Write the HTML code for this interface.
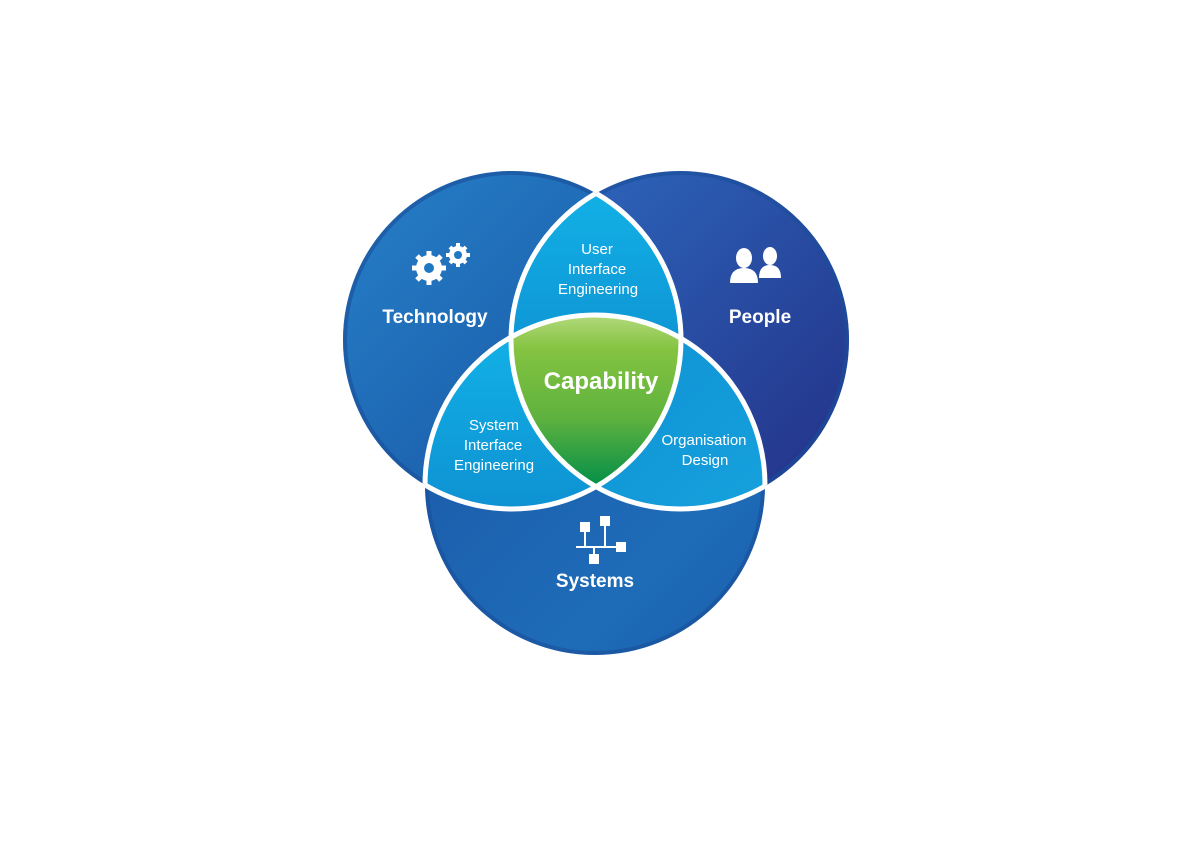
<!DOCTYPE html>
<html><head><meta charset="utf-8"><style>
html,body{margin:0;padding:0;background:#fff;width:1200px;height:844px;overflow:hidden}
text{font-family:"Liberation Sans",sans-serif;fill:#fff;font-weight:bold;text-anchor:middle}
</style></head><body>
<svg width="1200" height="844" viewBox="0 0 1200 844" xmlns="http://www.w3.org/2000/svg">
<defs>
<linearGradient id="gT" x1="0" y1="0" x2="1" y2="1"><stop offset="0" stop-color="#2680c8"/><stop offset="1" stop-color="#174f9f"/></linearGradient>
<linearGradient id="gP" x1="0" y1="0" x2="1" y2="1"><stop offset="0" stop-color="#2d6bc0"/><stop offset="1" stop-color="#232f86"/></linearGradient>
<linearGradient id="gS" x1="0" y1="0" x2="1" y2="1"><stop offset="0" stop-color="#1b57a6"/><stop offset="0.7" stop-color="#1e6cb8"/><stop offset="1" stop-color="#1a5eac"/></linearGradient>
<linearGradient id="gL" x1="0" y1="0" x2="0" y2="1"><stop offset="0" stop-color="#12b4e8"/><stop offset="1" stop-color="#0b78c2"/></linearGradient>
<linearGradient id="gL2" x1="0" y1="0" x2="1" y2="1"><stop offset="0" stop-color="#0c88cf"/><stop offset="1" stop-color="#18a8e0"/></linearGradient>
<linearGradient id="gC" gradientUnits="userSpaceOnUse" x1="0" y1="315" x2="0" y2="486"><stop offset="0" stop-color="#b3d97c"/><stop offset="0.2" stop-color="#84c340"/><stop offset="0.6" stop-color="#5fb23e"/><stop offset="1" stop-color="#038f48"/></linearGradient>
<clipPath id="cT"><circle cx="512" cy="340" r="169"/></clipPath>
<clipPath id="cP"><circle cx="680" cy="340" r="169"/></clipPath>
<clipPath id="cPS"><circle cx="680" cy="340" r="169"/><circle cx="595" cy="485" r="170"/></clipPath>
<clipPath id="cTS"><circle cx="512" cy="340" r="169"/><circle cx="595" cy="485" r="170"/></clipPath>
<clipPath id="cTP"><circle cx="512" cy="340" r="169"/><circle cx="680" cy="340" r="169"/></clipPath>
</defs>
<circle cx="512" cy="340" r="169" fill="url(#gT)"/>
<circle cx="680" cy="340" r="169" fill="url(#gP)"/>
<circle cx="595" cy="485" r="170" fill="url(#gS)"/>
<g fill="none" stroke="#1a4f9a" stroke-width="4" opacity="0.6">
<circle cx="512" cy="340" r="167"/><circle cx="680" cy="340" r="167"/><circle cx="595" cy="485" r="168"/></g>
<g clip-path="url(#cT)"><circle cx="680" cy="340" r="169" fill="url(#gL)"/></g>
<g clip-path="url(#cT)"><circle cx="595" cy="485" r="170" fill="url(#gL)"/></g>
<g clip-path="url(#cP)"><circle cx="595" cy="485" r="170" fill="url(#gL2)"/></g>
<g clip-path="url(#cT)"><g clip-path="url(#cP)"><circle cx="595" cy="485" r="170" fill="url(#gC)"/></g></g>
<g fill="none" stroke="#fff" stroke-width="5">
<circle cx="512" cy="340" r="169" clip-path="url(#cPS)"/>
<circle cx="680" cy="340" r="169" clip-path="url(#cTS)"/>
<circle cx="595" cy="485" r="170" clip-path="url(#cTP)"/>
</g>
<g fill="#fff">
<circle cx="429" cy="268" r="13"/><g stroke="#fff" stroke-width="5">
<line x1="429" y1="251" x2="429" y2="285"/><line x1="412" y1="268" x2="446" y2="268"/>
<line x1="417" y1="256" x2="441" y2="280"/><line x1="441" y1="256" x2="417" y2="280"/></g>
<circle cx="429" cy="268" r="5" fill="#1f78c4"/>
<circle cx="458" cy="255" r="9"/><g stroke="#fff" stroke-width="4">
<line x1="458" y1="243" x2="458" y2="267"/><line x1="446" y1="255" x2="470" y2="255"/>
<line x1="450" y1="247" x2="466" y2="263"/><line x1="466" y1="247" x2="450" y2="263"/></g>
<circle cx="458" cy="255" r="4" fill="#1f78c4"/>
</g>
<g fill="#fff">
<ellipse cx="744" cy="258" rx="8" ry="10"/><path d="M730 283 Q730 268 744 268 Q758 268 758 283 Z"/>
<ellipse cx="770" cy="256" rx="7" ry="9"/><path d="M759 278 Q759 265 770 265 Q781 265 781 278 Z"/>
</g>
<g fill="#fff" stroke="#fff" stroke-width="2">
<rect x="581" y="523" width="8" height="8"/><rect x="601" y="517" width="8" height="8"/>
<rect x="617" y="543" width="8" height="8"/><rect x="590" y="555" width="8" height="8"/>
<line x1="585" y1="531" x2="585" y2="547"/><line x1="605" y1="525" x2="605" y2="547"/>
<line x1="576" y1="547" x2="617" y2="547"/><line x1="594" y1="547" x2="594" y2="555"/>
</g>
<text x="435" y="323" font-size="19">Technology</text>
<text x="760" y="323" font-size="19">People</text>
<text x="595" y="587" font-size="19">Systems</text>
<text x="601" y="389" font-size="24">Capability</text>
<g font-size="15"><text x="597" y="254" style="font-weight:normal">User</text><text x="597" y="274" style="font-weight:normal">Interface</text><text x="598" y="294" style="font-weight:normal">Engineering</text>
<text x="494" y="430" style="font-weight:normal">System</text><text x="493" y="450" style="font-weight:normal">Interface</text><text x="494" y="470" style="font-weight:normal">Engineering</text>
<text x="704" y="445" style="font-weight:normal">Organisation</text><text x="705" y="465" style="font-weight:normal">Design</text></g>
</svg>
</body></html>
